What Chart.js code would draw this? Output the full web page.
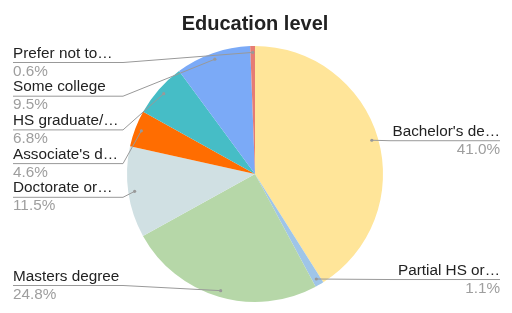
<!DOCTYPE html>
<html>
<head>
<meta charset="utf-8">
<script src="https://cdn.jsdelivr.net/npm/chart.js@4.4.1/dist/chart.umd.min.js"></script>
<style>
  html, body { margin: 0; padding: 0; background: #fff; }
</style>
</head>
<body>
<canvas id="myChart" width="512" height="313"></canvas>
<script>
// data (clockwise from 12 o'clock)
const categories = ["Bachelor's de…", "Partial HS or…", "Masters degree", "Doctorate or…",
  "Associate's d…", "HS graduate/…", "Some college", "Prefer not to…"];
const shares = [41.0, 1.1, 24.8, 11.5, 4.6, 6.8, 9.5, 0.6];
const sliceColors = ['#ffe599', '#9fc5e8', '#b6d7a8', '#d0e0e3', '#ff6d01', '#46bdc6', '#7baaf7', '#e67c73'];

const FONT = '"Liberation Sans", Arial, sans-serif';

// callout labels with leader lines, like the google sheets pie
const calloutLabels = {
  id: 'calloutLabels',
  afterDraw(chart) {
    const ctx = chart.ctx;
    const arcs = chart.getDatasetMeta(0).data;
    const left = [], right = [];
    arcs.forEach((arc, i) => {
      const p = arc.getProps(['x', 'y', 'startAngle', 'endAngle', 'outerRadius'], true);
      const mid = (p.startAngle + p.endAngle) / 2;
      const r = p.outerRadius * 0.95;
      const item = { i, px: p.x + Math.cos(mid) * r, py: p.y + Math.sin(mid) * r };
      (item.px >= p.x ? right : left).push(item);
    });

    const gap = 33.7, minY = 62, maxY = 285;
    [left, right].forEach(side => {
      side.sort((a, b) => a.py - b.py);
      let prev = -Infinity;
      side.forEach(it => {
        it.ly = Math.min(maxY, Math.max(minY, it.py, prev + gap));
        prev = it.ly;
      });
      for (let k = side.length - 2; k >= 0; k--) {
        side[k].ly = Math.min(side[k].ly, side[k + 1].ly - gap);
      }
    });

    ctx.save();
    ctx.lineWidth = 1;
    ctx.font = '15.3px ' + FONT;

    const drawOne = (it, isLeft) => {
      const xText = isLeft ? 13 : 500;
      const xBend = isLeft ? 123 : 390;
      ctx.beginPath();
      ctx.strokeStyle = '#999999';
      ctx.moveTo(xText, it.ly + 0.5);
      ctx.lineTo(xBend, it.ly + 0.5);
      ctx.lineTo(it.px, it.py);
      ctx.stroke();
      ctx.beginPath();
      ctx.fillStyle = '#999999';
      ctx.arc(it.px, it.py, 1.6, 0, Math.PI * 2);
      ctx.fill();

      ctx.textAlign = isLeft ? 'left' : 'right';
      ctx.textBaseline = 'alphabetic';
      ctx.fillStyle = '#222222';
      ctx.fillText(categories[it.i], xText, it.ly - 4.5);
      ctx.fillStyle = '#9e9e9e';
      ctx.fillText(shares[it.i].toFixed(1) + '%', xText, it.ly + 13.5);
    };
    left.forEach(it => drawOne(it, true));
    right.forEach(it => drawOne(it, false));
    ctx.restore();
  }
};

const ctx = document.getElementById('myChart');

new Chart(ctx, {
  type: 'pie',
  data: {
    labels: categories,
    datasets: [{
      data: shares,
      backgroundColor: sliceColors,
      borderWidth: 0,
      hoverOffset: 0
    }]
  },
  options: {
    responsive: false,
    animation: false,
    layout: {
      padding: { top: 0, bottom: 11, left: 127, right: 129 }
    },
    plugins: {
      legend: { display: false },
      tooltip: { enabled: false },
      title: {
        display: true,
        text: 'Education level',
        color: '#222222',
        font: { family: FONT, size: 20, weight: 'bold' },
        padding: { top: 12, bottom: 10 }
      }
    }
  },
  plugins: [calloutLabels]
});
</script>
</body>
</html>
